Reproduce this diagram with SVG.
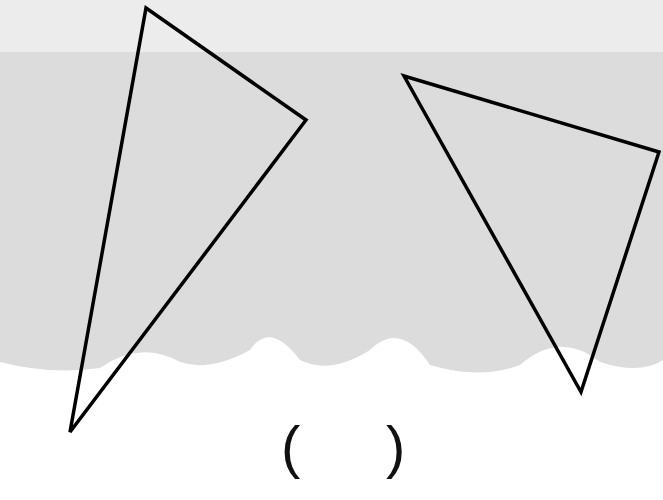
<svg xmlns="http://www.w3.org/2000/svg" width="663" height="500" viewBox="0 0 663 500">
<style>
.tri{fill:none;stroke:#000;stroke-width:3.5;stroke-linejoin:miter}
.p{font-family:"Liberation Sans",Arial,sans-serif;font-size:58px;fill:#111}
</style>
<rect x="0" y="0" width="663" height="500" fill="#ffffff"/>
<g id="watermark">
<rect x="0" y="0" width="663" height="52" fill="#ececec"/>
<path d="M0 52 H663 V360 Q640 375 600 362 Q560 330 520 365 Q480 380 430 365 Q400 320 370 350 Q330 375 300 360 Q270 320 250 350 Q210 372 180 362 Q140 340 100 368 Q50 375 0 362 Z" fill="#dcdcdc"/>
</g>
<g id="triangle1"><polygon class="tri" points="146,8 306,120 70,432"/></g>
<g id="triangle2"><polygon class="tri" points="404,76 659,152 581,392"/></g>
<g id="blank">
<text class="p" x="281" y="467">(</text>
<text class="p" x="386" y="467">)</text>
</g>
</svg>
